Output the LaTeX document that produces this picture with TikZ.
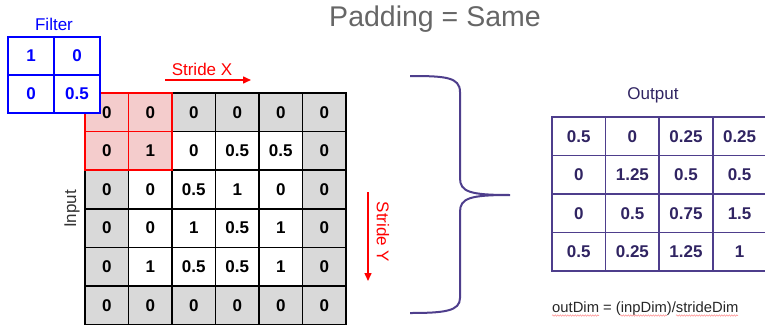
\documentclass[tikz,border=0pt]{standalone}
\usepackage{fontspec}
\setmainfont{Liberation Sans}
\usetikzlibrary{arrows.meta,positioning,decorations.pathmorphing}
\definecolor{padgray}{RGB}{217,217,217}
\definecolor{hlpink}{RGB}{244,204,204}
\definecolor{hlred}{RGB}{255,0,0}
\definecolor{filtblue}{RGB}{0,0,255}
\definecolor{outpurple}{RGB}{78,62,140}
\definecolor{outtext}{RGB}{48,36,98}
\definecolor{titlegray}{RGB}{102,102,102}
\begin{document}
\begin{tikzpicture}[x=1pt, y=-1pt, >={Triangle[length=8pt,width=7pt]},
  num/.style={font=\fontsize{17}{20}\selectfont\bfseries},
  lbl/.style={font=\fontsize{17}{20}\selectfont, inner sep=0pt},
  incell/.style={num, draw=black, line width=1.6pt, minimum width=43.5pt, minimum height=38.6pt, inner sep=0pt, outer sep=0pt},
  filtcell/.style={num, text=filtblue, draw=filtblue, fill=white, line width=1.6pt, minimum width=46pt, minimum height=38pt, inner sep=0pt, outer sep=0pt},
  outcell/.style={num, text=outtext, draw=outpurple, line width=1.6pt, minimum width=53.6pt, minimum height=38.5pt, inner sep=0pt, outer sep=0pt},
  squig/.style={hlred!45, line width=0.5pt, decorate, decoration={snake, amplitude=0.7pt, segment length=2.5pt}}]
\useasboundingbox (0,0) rectangle (765,324);
% input with zero padding
\fill[padgray] (85,93) rectangle (346,325);
\fill[white] (128.5,131.6) rectangle (302.5,286);
\fill[hlpink] (85,93) rectangle (172,170.2);
\foreach \vals [count=\r] in {{0,0,0,0,0,0},{0,1,0,0.5,0.5,0},{0,0,0.5,1,0,0},{0,0,1,0.5,1,0},{0,1,0.5,0.5,1,0},{0,0,0,0,0,0}}
  \foreach \v [count=\c] in \vals
    \node[incell] (in-\r-\c) at ({85+43.5*(\c-0.5)},{93+38.6*(\r-0.5)}) {\v};
\foreach \r/\c in {1/1,1/2,2/1,2/2}
  \draw[hlred, line width=1.6pt] (in-\r-\c.north west) rectangle (in-\r-\c.south east);
% filter
\foreach \vals [count=\r] in {{1,0},{0,0.5}}
  \foreach \v [count=\c] in \vals
    \node[filtcell] (filt-\r-\c) at ({8+46*(\c-0.5)},{37+38*(\r-0.5)}) {\v};
\node[lbl, text=filtblue] (filtlabel) at (54,24) {Filter};
% output
\foreach \vals [count=\r] in {{0.5,0,0.25,0.25},{0,1.25,0.5,0.5},{0,0.5,0.75,1.5},{0.5,0.25,1.25,1}}
  \foreach \v [count=\c] in \vals
    \node[outcell] (out-\r-\c) at ({552+53.6*(\c-0.5)},{117+38.5*(\r-0.5)}) {\v};
\node[lbl, text=outtext] (outlabel) at (653,95) {Output};
% strides
\node[lbl, text=hlred] (stridex) at (202,69) {Stride X};
\coordinate (sx-start) at (165,80);
\coordinate (sx-end) at (251,80);
\draw[->, hlred, line width=1.5pt] (sx-start) -- (sx-end);
\node[lbl, text=hlred, rotate=-90] (stridey) at (383,232) {Stride Y};
\coordinate (sy-start) at (368,192);
\coordinate (sy-end) at (368,281);
\draw[->, hlred, line width=1.5pt] (sy-start) -- (sy-end);
\node[lbl, text=black!80, rotate=90] (inlabel) at (72,209) {Input};
% brace
\draw[outpurple, line width=2pt] (410,76) .. controls (445,76) and (460,77) .. (460,92) -- (460,178)
  .. controls (460,192) and (470,195) .. (510,195) .. controls (470,195) and (460,198) .. (460,212)
  -- (460,298) .. controls (460,311) and (445,313) .. (410,313);
% titles
\node[font=\fontsize{28.5}{32}\selectfont, text=titlegray] (title) at (435,19) {Padding = Same};
\node[font=\fontsize{14.8}{17}\selectfont, text=black!85, inner sep=0pt, anchor=base west] (formula) at (552,312) {outDim = (inpDim)/strideDim};
\draw[squig] (552,315.5) -- (599,315.5);
\draw[squig] (620,315.5) -- (667,315.5);
\draw[squig] (676,315.5) -- (738,315.5);
\end{tikzpicture}
\end{document}
